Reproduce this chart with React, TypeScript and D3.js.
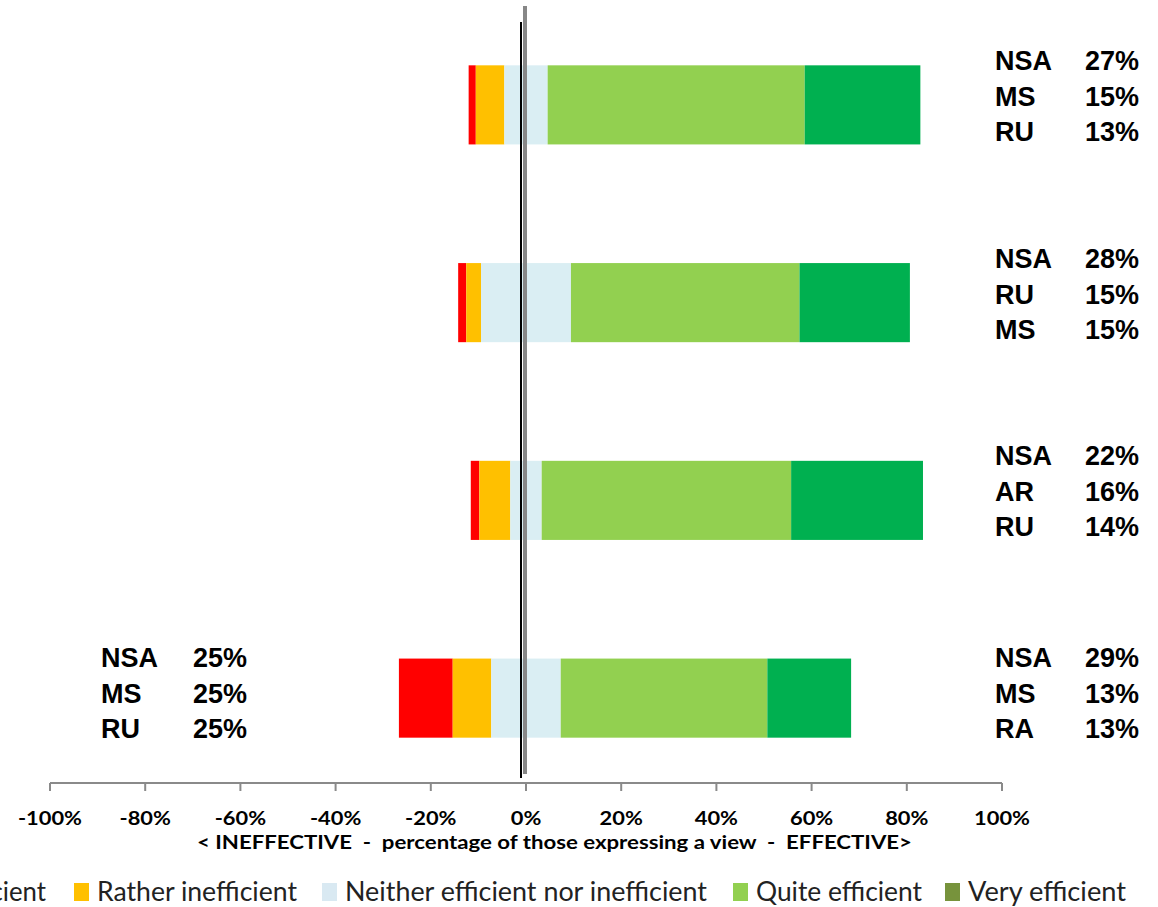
import React from "react";
import * as d3 from "d3";

const categories = ["Item 1", "Item 2", "Item 3", "Item 4"];
const veryInefficient = [1.5, 1.7, 1.8, 11.3];
const ratherInefficient = [6.0, 3.1, 6.5, 8.1];
const neither = [9.1, 18.9, 6.6, 14.6];
const quiteEfficient = [54.0, 48.0, 52.4, 43.4];
const veryEfficient = [24.3, 23.2, 27.7, 17.6];

const ticks = [-100, -80, -60, -40, -20, 0, 20, 40, 60, 80, 100];

const rightNames = [
  ["NSA", "MS", "RU"],
  ["NSA", "RU", "MS"],
  ["NSA", "AR", "RU"],
  ["NSA", "MS", "RA"],
];
const rightValues = [
  ["27%", "15%", "13%"],
  ["28%", "15%", "15%"],
  ["22%", "16%", "14%"],
  ["29%", "13%", "13%"],
];
const leftNames = [[], [], [], ["NSA", "MS", "RU"]];
const leftValues = [[], [], [], ["25%", "25%", "25%"]];

const seriesNames = [
  "Very inefficient",
  "Rather inefficient",
  "Neither efficient nor inefficient",
  "Quite efficient",
  "Very efficient",
];
const barColors = ["#FF0000", "#FFC000", "#DAEEF3", "#92D050", "#00B050"];
const legendColors = ["#FF0000", "#FFC000", "#D9E9F2", "#92D050", "#77933C"];
// legend layout: text start x and text width
const legendTextX = [-124, 97, 345, 756, 968];
const legendTextW = [170, 200, 362, 166, 158];

export default function App() {
  const W = 1158;
  const H = 907;
  const x = d3.scaleLinear().domain([-100, 100]).range([50, 1002]);
  const y = d3
    .scaleBand<string>()
    .domain(categories)
    .range([6, 797])
    .paddingInner(0.6)
    .paddingOuter(0.3);
  const bw = y.bandwidth();
  const axisY = 783;

  const bars: React.ReactNode[] = [];
  categories.forEach((c, i) => {
    const vals = [
      veryInefficient[i],
      ratherInefficient[i],
      neither[i],
      quiteEfficient[i],
      veryEfficient[i],
    ];
    let start = -(vals[0] + vals[1] + vals[2] / 2);
    vals.forEach((v, k) => {
      const x0 = x(start);
      const x1 = x(start + v);
      bars.push(
        <rect
          key={`${c}-${k}`}
          x={x0}
          y={y(c)}
          width={x1 - x0}
          height={bw}
          fill={barColors[k]}
        />
      );
      start += v;
    });
  });

  const rowOffsets = [-35, 1, 36];
  const groupShift = [0, 0, 0, 4];
  const labelFont = "'Liberation Sans', Arial, sans-serif";
  const fs = 27;

  return (
    <svg width={W} height={H} style={{ display: "block", position: "absolute", left: 0, top: 0 }}>
      <rect width={W} height={H} fill="#fff" />
      {bars}
      {/* center lines */}
      <line x1={x(0) - 5} x2={x(0) - 5} y1={22} y2={778} stroke="#000" strokeWidth={2} />
      <line x1={x(0) - 1} x2={x(0) - 1} y1={6} y2={774} stroke="#878787" strokeWidth={4} />
      {/* axis */}
      <line x1={x(-100)} x2={x(100)} y1={axisY} y2={axisY} stroke="#8a8a8a" strokeWidth={2} />
      {ticks.map((t) => (
        <line key={t} x1={x(t)} x2={x(t)} y1={axisY} y2={axisY + 8} stroke="#8a8a8a" strokeWidth={2} />
      ))}
      {ticks.map((t) => (
        <text
          key={`l${t}`}
          transform={`translate(${x(t)},${825}) scale(1.15,1)`}
          textAnchor="middle"
          fontFamily="Lato, sans-serif"
          fontWeight="bold"
          fontSize={19}
          fill="#000"
        >
          {`${t}%`}
        </text>
      ))}
      <text
        x={197}
        y={849}
        textLength={715}
        lengthAdjust="spacingAndGlyphs"
        fontFamily="Lato, sans-serif"
        fontWeight="bold"
        fontSize={19}
        style={{ whiteSpace: "pre" }}
      >
        {"< INEFFECTIVE  -  percentage of those expressing a view  -  EFFECTIVE>"}
      </text>
      {/* bar annotations */}
      {categories.map((c, i) => {
        const cy = (y(c) as number) + bw / 2 + groupShift[i];
        return (
          <g key={`r${c}`}>
            {rightNames[i].map((n, j) => (
              <text key={j} x={995} y={cy + rowOffsets[j]} fontFamily={labelFont} fontWeight="bold" fontSize={fs}>
                {n}
              </text>
            ))}
            {rightValues[i].map((v, j) => (
              <text key={`v${j}`} x={1139} y={cy + rowOffsets[j]} textAnchor="end" fontFamily={labelFont} fontWeight="bold" fontSize={fs}>
                {v}
              </text>
            ))}
            {leftNames[i].map((n, j) => (
              <text key={`ln${j}`} x={101} y={cy + rowOffsets[j]} fontFamily={labelFont} fontWeight="bold" fontSize={fs}>
                {n}
              </text>
            ))}
            {leftValues[i].map((v, j) => (
              <text key={`lv${j}`} x={247} y={cy + rowOffsets[j]} textAnchor="end" fontFamily={labelFont} fontWeight="bold" fontSize={fs}>
                {v}
              </text>
            ))}
          </g>
        );
      })}
      {/* legend */}
      {seriesNames.map((s, k) => (
        <g key={s}>
          <rect x={legendTextX[k] - 23} y={883} width={15} height={18} fill={legendColors[k]} />
          <text
            x={legendTextX[k]}
            y={901}
            textLength={legendTextW[k]}
            lengthAdjust="spacingAndGlyphs"
            fontFamily="Lato, sans-serif"
            fontSize={27}
            fill="#222"
          >
            {s}
          </text>
        </g>
      ))}
    </svg>
  );
}
